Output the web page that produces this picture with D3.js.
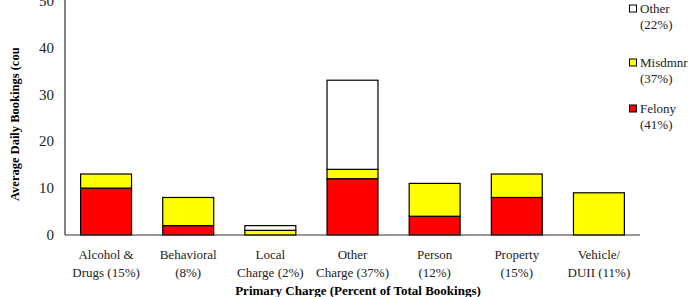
<!DOCTYPE html>
<html>
<head>
<meta charset="utf-8">
<script src="https://cdn.jsdelivr.net/npm/d3@7"></script>
<style>
  body { margin: 0; background: #fff; overflow: hidden; }
</style>
</head>
<body>
<div id="viz"></div>
<script>
// categories (two-line labels) and stacked series
const categories = ['Alcohol & Drugs', 'Behavioral', 'Local Charge', 'Other Charge', 'Person', 'Property', 'Vehicle/ DUII'];
const catLines = [
  ['Alcohol &', 'Drugs (15%)'],
  ['Behavioral', '(8%)'],
  ['Local', 'Charge (2%)'],
  ['Other', 'Charge (37%)'],
  ['Person', '(12%)'],
  ['Property', '(15%)'],
  ['Vehicle/', 'DUII (11%)']
];
const felony = [10, 2, 0, 12, 4, 8, 0];
const misdmnr = [3, 6, 1, 2, 7, 5, 9];
const other = [0, 0, 1, 19, 0, 0, 0];
const seriesKeys = ['felony', 'misdmnr', 'other'];
const seriesColors = {felony: '#ff0000', misdmnr: '#ffff00', other: '#ffffff'};
const legendKeys = ['other', 'misdmnr', 'felony'];
const legendLabels = [['Other', '(22%)'], ['Misdmnr', '(37%)'], ['Felony', '(41%)']];
const yTicks = [0, 10, 20, 30, 40, 50];

const FONT = '"Liberation Serif", "DejaVu Serif", "Times New Roman", serif';
const W = 688, H = 297;
const svg = d3.select('#viz').append('svg')
  .attr('width', W).attr('height', H)
  .attr('font-family', FONT);

const rows = categories.map((c, i) => ({cat: c, felony: felony[i], misdmnr: misdmnr[i], other: other[i]}));
const stacked = d3.stack().keys(seriesKeys)(rows);

const x = d3.scaleBand().domain(categories).range([65, 640]).paddingInner(0.38).paddingOuter(0.19);
const y = d3.scaleLinear().domain([0, 50]).range([235, 0.5]);

// bars
svg.append('g').selectAll('g')
  .data(stacked)
  .join('g')
  .attr('fill', d => seriesColors[d.key])
  .selectAll('rect')
  .data(d => d.filter(s => s[1] - s[0] > 0))
  .join('rect')
  .attr('x', d => x(d.data.cat))
  .attr('y', d => y(d[1]))
  .attr('width', x.bandwidth())
  .attr('height', d => y(d[0]) - y(d[1]))
  .attr('stroke', '#000')
  .attr('stroke-width', 1.2);

// axes lines
svg.append('line').attr('x1', 65).attr('x2', 65).attr('y1', 0).attr('y2', y(0))
  .attr('stroke', '#333').attr('stroke-width', 1.2);
svg.append('line').attr('x1', 65).attr('x2', 640).attr('y1', y(0)).attr('y2', y(0))
  .attr('stroke', '#333').attr('stroke-width', 1.2);

// y tick labels (top one is clipped by the frame, as in the source)
svg.append('g').selectAll('text')
  .data(yTicks)
  .join('text')
  .attr('x', 54)
  .attr('y', d => y(d))
  .attr('dy', '0.35em')
  .attr('text-anchor', 'end')
  .attr('font-size', 15)
  .attr('fill', '#222')
  .text(d => d);

// category labels
const catG = svg.append('g').selectAll('text')
  .data(categories)
  .join('text')
  .attr('text-anchor', 'middle')
  .attr('font-size', 13)
  .attr('fill', '#222');
catG.each(function(c, i) {
  const t = d3.select(this);
  catLines[i].forEach((ln, j) => {
    t.append('tspan')
      .attr('x', x(c) + x.bandwidth() / 2)
      .attr('y', 259 + j * 18)
      .text(ln);
  });
});

// axis titles
svg.append('text')
  .attr('x', 358).attr('y', 295)
  .attr('text-anchor', 'middle')
  .attr('font-size', 13).attr('font-weight', 'bold')
  .text('Primary Charge (Percent of Total Bookings)');

svg.append('text')
  .attr('transform', 'translate(19,201) rotate(-90)')
  .attr('text-anchor', 'start')
  .attr('font-size', 12.5).attr('font-weight', 'bold')
  .text('Average Daily Bookings (cou');

// legend
const legY = [9, 63, 109];
const leg = svg.append('g').selectAll('g')
  .data(legendKeys)
  .join('g')
  .attr('transform', (d, i) => `translate(629,${legY[i]})`);
leg.append('rect')
  .attr('x', 0.5).attr('y', -4).attr('width', 7).attr('height', 7)
  .attr('fill', d => seriesColors[d])
  .attr('stroke', '#000').attr('stroke-width', 1);
leg.each(function(d, i) {
  const t = d3.select(this).append('text').attr('font-size', 13).attr('fill', '#222');
  legendLabels[i].forEach((ln, j) => {
    t.append('tspan').attr('x', 11).attr('y', 4 + j * 16).text(ln);
  });
});
</script>
</body>
</html>
